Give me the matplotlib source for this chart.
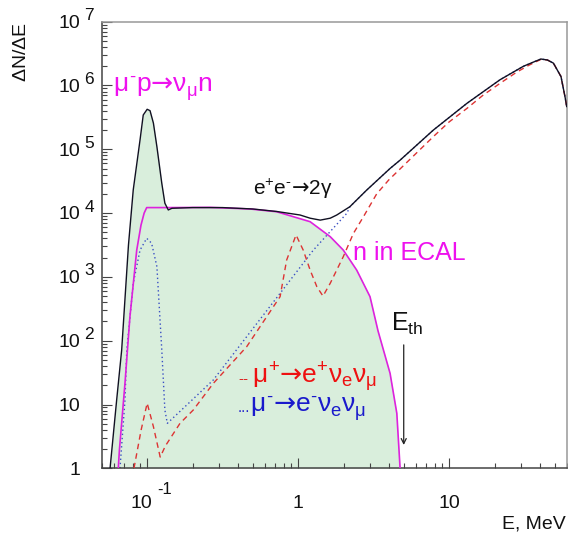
import numpy as np
import matplotlib
matplotlib.use('Agg')
import matplotlib.pyplot as plt
from matplotlib.ticker import LogLocator, NullFormatter

plt.rcParams['font.family'] = ['Liberation Sans', 'DejaVu Sans']
plt.rcParams['mathtext.fontset'] = 'custom'
plt.rcParams['mathtext.rm'] = 'Liberation Sans'
plt.rcParams['mathtext.it'] = 'Liberation Sans'
plt.rcParams['mathtext.bf'] = 'Liberation Sans:bold'
plt.rcParams['mathtext.sf'] = 'DejaVu Sans'

# ---------------- data ----------------
# total spectrum (black)
total_E = [0.0568, 0.0628, 0.0678, 0.0752, 0.0809, 0.0897, 0.0942, 0.100, 0.1045,
           0.110, 0.116, 0.125, 0.131, 0.138, 0.146, 0.200, 0.316, 0.501, 0.721,
           1.03, 1.20, 1.40, 1.63, 1.80, 2.20, 2.84, 4.06, 4.73, 7.85, 13.1, 21.7,
           31.0, 36.3, 40.5, 44.7, 49.0, 55.0, 58.5, 60.0]
total_N = [1, 11.7, 71.4, 3160, 23200, 140000, 345000, 424000, 403000,
           257000, 110000, 29300, 14300, 11200, 11900, 12200, 12200, 11600, 10600,
           9330, 8320, 7760, 8320, 9330, 12600, 22900, 50100, 67600, 200000, 525000, 1230000,
           2000000, 2340000, 2600000, 2510000, 2240000, 1380000, 661000, 468000]

# n in ECAL (magenta)
ecal_E = [0.0644, 0.0655, 0.0713, 0.0769, 0.0853, 0.0910, 0.0955, 0.0993, 0.142,
          0.261, 0.480, 0.721, 1.20, 1.63, 1.99, 2.44, 2.70, 2.99, 3.38, 4.06, 4.50, 4.73]
ecal_N = [1, 1.94, 21.5, 238, 2630, 6460, 10000, 12200, 12200,
          12300, 11600, 10500, 7330, 4270, 2630, 1280, 794, 490, 142, 30.8, 7.28, 1]

# mu- -> e- nu nu (blue, dotted)
mum_E = [0.0661, 0.0713, 0.0733, 0.0809, 0.0897, 0.0993, 0.107, 0.116, 0.125, 0.131,
         0.136, 0.274, 0.759, 1.26, 2.10, 2.20, 2.84, 4.06, 4.73, 7.85, 13.1, 21.7,
         31.0, 36.3, 40.5, 44.7, 49.0, 55.0, 58.5, 60.0]
mum_N = [1, 11.7, 71.4, 794, 2630, 4030, 3370, 1450, 71.4, 8.2,
         5.07, 24.2, 553, 2630, 9930, 12600, 22900, 50100, 67600, 200000, 525000, 1230000,
         2000000, 2340000, 2600000, 2510000, 2240000, 1380000, 661000, 468000]

# mu+ -> e+ nu nu (red, dashed)
mup_E = [0.0818, 0.0912, 0.100, 0.110, 0.122, 0.132, 0.165, 0.202, 0.274, 0.456,
         0.759, 0.839, 0.968, 1.08, 1.20, 1.33, 1.46, 1.63, 1.99, 2.32, 2.70, 3.31,
         3.98, 5.01, 6.31, 7.94, 10.0, 13.1, 16.8, 21.7, 28.0, 33.9, 40.5, 44.7,
         49.0, 55.0, 58.5, 60.0]
mup_N = [1, 3.98, 10.5, 4.5, 1.5, 2.24, 5.07, 8.2, 21.4, 80.5,
         490, 1840, 4540, 2630, 1280, 700, 500, 794, 2080, 4790, 8710, 20000,
         33100, 56200, 95500, 162000, 269000, 437000, 708000, 1080000, 1620000, 2090000, 2570000, 2510000,
         2240000, 1380000, 661000, 468000]

# axis ticks / labels
y_tick_vals = [1, 10, 1e2, 1e3, 1e4, 1e5, 1e6, 1e7]
y_tick_base = ['1', '10', '10', '10', '10', '10', '10', '10']
y_tick_exp = ['', '', '2', '3', '4', '5', '6', '7']
x_tick_vals = [0.1, 1, 10]
x_tick_base = ['10', '1', '10']
x_tick_exp = ['-1', '', '']

E_th = 5.0

# ---------------- figure ----------------
W, H = 568, 534
fig = plt.figure(figsize=(W / 100, H / 100), dpi=100)
L, R, T, B = 101.7, 566.7, 21.7, 468.3
ax = fig.add_axes([L / W, (H - B) / H, (R - L) / W, (B - T) / H])
ax.set_xscale('log')
ax.set_yscale('log')
ax.set_xlim(0.05, 60)
ax.set_ylim(1, 1e7)

# fill: under total for the capture peak, then under n in ECAL
fill_E = [e for e in total_E if e <= 0.146] + [e for e in ecal_E if e > 0.146]
fill_N = [n for e, n in zip(total_E, total_N) if e <= 0.146] + \
         [n for e, n in zip(ecal_E, ecal_N) if e > 0.146]
ax.fill_between(fill_E, 1, fill_N, color='#d9eedc', lw=0, zorder=1)

ax.plot(mum_E, mum_N, color='#3a4fc4', lw=1.0, ls=(0, (1, 2)), zorder=2)
ax.plot(mup_E, mup_N, color='#dd3333', lw=1.0, ls=(0, (4, 3)), zorder=3)
ax.plot(ecal_E, ecal_N, color='#dd22dd', lw=1.2, zorder=4)
ax.plot(total_E, total_N, color='#111122', lw=1.0, zorder=5)

# spines
for s in ['left', 'bottom']:
    ax.spines[s].set_color('#444444')
    ax.spines[s].set_linewidth(1.1)
for s in ['top', 'right']:
    ax.spines[s].set_color('#999999')
    ax.spines[s].set_linewidth(1.1)

ax.xaxis.set_major_locator(LogLocator(base=10, numticks=20))
ax.xaxis.set_minor_locator(LogLocator(base=10, subs=np.arange(2, 10), numticks=20))
ax.yaxis.set_major_locator(LogLocator(base=10, numticks=20))
ax.yaxis.set_minor_locator(LogLocator(base=10, subs=np.arange(2, 10), numticks=20))
ax.xaxis.set_major_formatter(NullFormatter())
ax.xaxis.set_minor_formatter(NullFormatter())
ax.yaxis.set_major_formatter(NullFormatter())
ax.yaxis.set_minor_formatter(NullFormatter())
ax.tick_params(which='both', direction='in', color='#444444', width=0.8,
               top=False, right=False)
ax.tick_params(which='major', length=7.5)
ax.tick_params(which='minor', length=3.8)

# tick labels (ROOT style)
for v, b, e in zip(y_tick_vals, y_tick_base, y_tick_exp):
    ax.annotate(b, xy=(0, v), xycoords=('axes fraction', 'data'),
                xytext=(-15.5, -1.3), textcoords='offset points',
                ha='right', va='center', fontsize=14, color='#111111')
    if e:
        ax.annotate(e, xy=(0, v), xycoords=('axes fraction', 'data'),
                    xytext=(-12.3, 4.3), textcoords='offset points',
                    ha='left', va='center', fontsize=12.5, color='#111111')
for v, b, e in zip(x_tick_vals, x_tick_base, x_tick_exp):
    if e:
        ax.annotate(b, xy=(v, 0), xycoords=('data', 'axes fraction'),
                    xytext=(-4.3, -25), textcoords='offset points',
                    ha='center', va='center', fontsize=14, color='#111111')
        ax.annotate(e, xy=(v, 0), xycoords=('data', 'axes fraction'),
                    xytext=(7.5, -15.6), textcoords='offset points',
                    ha='left', va='center', fontsize=12, color='#111111')
    else:
        ax.annotate(b, xy=(v, 0), xycoords=('data', 'axes fraction'),
                    xytext=(0, -25), textcoords='offset points',
                    ha='center', va='center', fontsize=14, color='#111111')

# axis titles
fig.text(21 / W, 1 - 22 / H, r'$\Delta$N/$\Delta$E', rotation=90, ha='center', va='top',
         fontsize=14, color='#111111')
fig.text(566 / W, 1 - 524 / H, 'E, MeV', ha='right', va='center', fontsize=14,
         color='#111111')

# annotations
ARR = r'\mathsf{→}'
ax.text(0.0594, 7.9e5, r'$\mu^{\text{-}}$p$' + ARR + r'\nu_{\mu}$n', color='#ee11ee',
        fontsize=19, ha='left', va='baseline', zorder=6)
ax.text(0.502, 1.92e4, r'e$^{+}$e$^{\text{-}}' + ARR + r'$2$\gamma$', color='#111111',
        fontsize=15, ha='left', va='baseline', zorder=6)
ax.text(2.31, 1840, 'n in ECAL', color='#ee11ee', fontsize=18, ha='left',
        va='baseline', zorder=6)
ax.text(4.12, 142, r'E$_{\rm th}$', color='#111111', fontsize=18, ha='left',
        va='baseline', zorder=6)
ax.annotate('', xy=(E_th, 2.1), xytext=(E_th, 95),
            arrowprops=dict(arrowstyle='->', color='#222222', lw=0.9,
                            mutation_scale=9), zorder=6)
ax.text(0.400, 22, '--', color='#dd2222', fontsize=11, ha='left', va='baseline', zorder=6)
ax.text(0.497, 21.8, r'$\mu^{+}' + ARR + r'$e$^{+}\nu_{e}\nu_{\mu}$', color='#ee1111',
        fontsize=19, ha='left', va='baseline', zorder=6)
ax.text(0.400, 7.6, '...', color='#2222cc', fontsize=11, ha='left', va='baseline', zorder=6)
ax.text(0.480, 7.5, r'$\mu^{\text{-}}' + ARR + r'$e$^{\text{-}}\nu_{e}\nu_{\mu}$', color='#1a1acc',
        fontsize=19, ha='left', va='baseline', zorder=6)

fig.savefig('out.png', dpi=100)
